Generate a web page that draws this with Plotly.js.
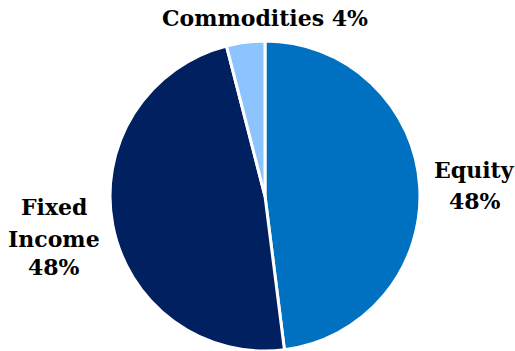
<!DOCTYPE html>
<html>
<head>
<meta charset="utf-8">
<script src="https://cdn.plot.ly/plotly-3.0.1.min.js"></script>
<style>html,body{margin:0;padding:0;background:#fff;}#chart{width:515px;height:351px;}</style>
</head>
<body>
<div id="chart"></div>
<script>
var categories = ["Equity", "Fixed Income", "Commodities"];
var shares = [48, 48, 4];
var labelLines = [["Equity", "48%"], ["Fixed", "Income", "48%"], ["Commodities 4%"]];
var colors = ["#0070C0", "#002060", "#8DC3FF"];

var W = 515, H = 351;
// label placement (pixel centres of each line)
var labelX = [474.5, 53.5, 265];
var labelY = [[170, 201], [207, 238.5, 267], [18.5]];

var trace = {
  type: "pie",
  labels: categories,
  values: shares,
  textinfo: "none",
  sort: false,
  direction: "clockwise",
  rotation: 0,
  marker: {colors: colors, line: {color: "#ffffff", width: 3}},
  automargin: false,
  showlegend: false,
  hoverinfo: "none",
  domain: {x: [0.2136, 0.8155], y: [0, 0.883]}
};

var annotations = [];
labelLines.forEach(function (lines, i) {
  lines.forEach(function (t, j) {
    annotations.push({
      text: t, showarrow: false,
      xref: "paper", yref: "paper",
      x: labelX[i] / W, y: 1 - labelY[i][j] / H,
      xanchor: "center", yanchor: "middle",
      font: {family: "DejaVu Serif", size: 22, color: "#000000", weight: "bold"}
    });
  });
});

var layout = {
  width: W, height: H,
  margin: {l: 0, r: 0, t: 0, b: 0},
  paper_bgcolor: "#ffffff",
  showlegend: false,
  annotations: annotations
};

Plotly.newPlot("chart", [trace], layout, {displayModeBar: false, staticPlot: true});
</script>
</body>
</html>
